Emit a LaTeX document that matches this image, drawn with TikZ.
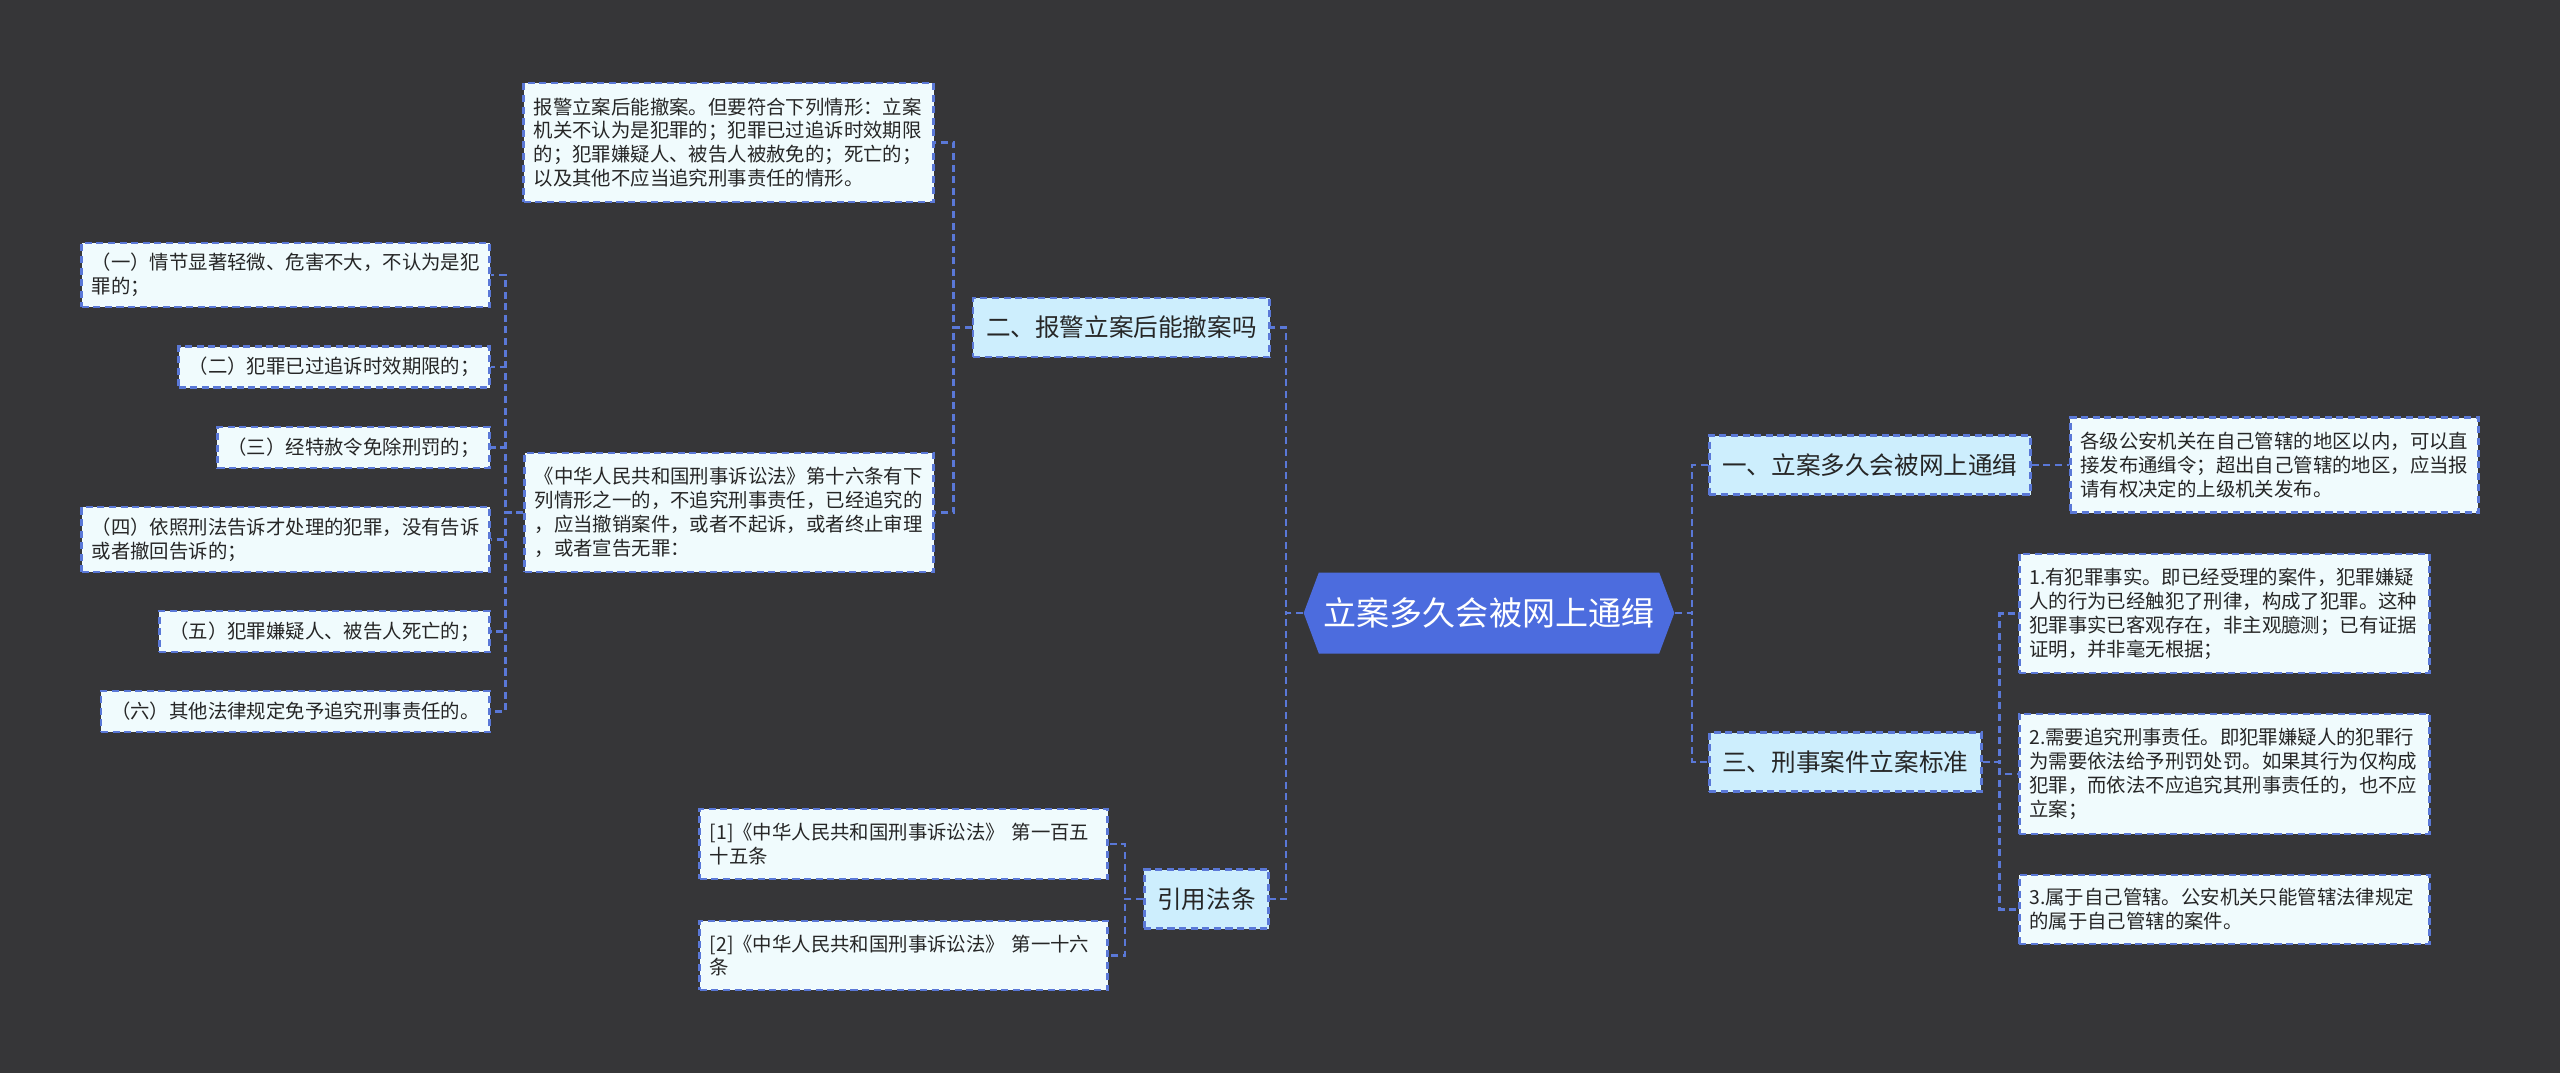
\documentclass[tikz,border=0pt]{standalone}
\usepackage{fontspec}
\setmainfont{Noto Sans CJK SC}
\usepackage{tikz}
\usetikzlibrary{shapes.symbols, positioning}
\definecolor{bgdark}{RGB}{54,54,56}
\definecolor{lineblue}{RGB}{90,120,215}
\definecolor{rootblue}{RGB}{76,108,222}
\definecolor{topicfill}{RGB}{205,238,253}
\definecolor{leaffill}{RGB}{240,251,253}
\tikzset{
    dashline/.style={dash pattern=on 2pt off 1.3pt},
    root_node/.style={
        signal, signal to=east and west, signal pointer angle=139, fill=rootblue,
        minimum height=0.81cm, inner xsep=0.05cm, text=white, font=\fontsize{9.4}{11}\selectfont
    },
    topic_box/.style={
        rectangle, draw=lineblue, dashline, line width=0.026cm, fill=topicfill,
        minimum height=0.59cm, inner xsep=0.13cm, text=black!85, font=\fontsize{7}{8.4}\selectfont
    },
    leaf_box/.style={
        rectangle, draw=lineblue, dashline, line width=0.026cm, fill=leaffill,
        inner xsep=0.1cm, inner ysep=0.05cm, align=left, text=black!85, font=\fontsize{5.52}{6.8}\selectfont
    },
    link/.style={draw=lineblue, dashline, line width=0.026cm}
}
\begin{document}
\begin{tikzpicture}
    \fill[bgdark] (0,0) rectangle (25.6,-10.73);
    \useasboundingbox (0,0) rectangle (25.6,-10.73);

    \node[root_node] (root) at (14.89,-6.13) {立案多久会被网上通缉};

    % right side
    \node[topic_box, anchor=west] (netwanted) at (17.08,-4.65) {一、立案多久会被网上通缉};
    \node[leaf_box, anchor=west, text width=3.88cm, minimum height=0.95cm] (issuer) at (20.69,-4.65) {各级公安机关在自己管辖的地区以内，可以直\\接发布通缉令；超出自己管辖的地区，应当报\\请有权决定的上级机关发布。};
    \node[topic_box, anchor=west] (standard) at (17.08,-7.62) {三、刑事案件立案标准};
    \node[leaf_box, anchor=west, text width=3.9cm, minimum height=1.19cm] (fact) at (20.18,-6.135) {1.有犯罪事实。即已经受理的案件，犯罪嫌疑\\人的行为已经触犯了刑律，构成了犯罪。这种\\犯罪事实已客观存在，非主观臆测；已有证据\\证明，并非毫无根据；};
    \node[leaf_box, anchor=west, text width=3.9cm, minimum height=1.2cm] (liability) at (20.18,-7.74) {2.需要追究刑事责任。即犯罪嫌疑人的犯罪行\\为需要依法给予刑罚处罚。如果其行为仅构成\\犯罪，而依法不应追究其刑事责任的，也不应\\立案；};
    \node[leaf_box, anchor=west, text width=3.9cm, minimum height=0.69cm] (jurisdiction) at (20.18,-9.095) {3.属于自己管辖。公安机关只能管辖法律规定\\的属于自己管辖的案件。};

    % left side
    \node[topic_box, anchor=east] (withdraw) at (12.71,-3.275) {二、报警立案后能撤案吗};
    \node[leaf_box, anchor=east, text width=3.9cm, minimum height=1.19cm] (conditions) at (9.35,-1.425) {报警立案后能撤案。但要符合下列情形：立案\\机关不认为是犯罪的；犯罪已过追诉时效期限\\的；犯罪嫌疑人、被告人被赦免的；死亡的；\\以及其他不应当追究刑事责任的情形。};
    \node[leaf_box, anchor=east, text width=3.89cm, minimum height=1.19cm] (article16) at (9.35,-5.125) {《中华人民共和国刑事诉讼法》第十六条有下\\列情形之一的，不追究刑事责任，已经追究的\\，应当撤销案件，或者不起诉，或者终止审理\\，或者宣告无罪：};
    \node[leaf_box, anchor=east, text width=3.88cm, minimum height=0.64cm] (case1) at (4.91,-2.75) {（一）情节显著轻微、危害不大，不认为是犯\\罪的；};
    \node[leaf_box, anchor=east, minimum height=0.41cm] (case2) at (4.91,-3.67) {（二）犯罪已过追诉时效期限的；};
    \node[leaf_box, anchor=east, minimum height=0.41cm] (case3) at (4.91,-4.475) {（三）经特赦令免除刑罚的；};
    \node[leaf_box, anchor=east, text width=3.88cm, minimum height=0.65cm] (case4) at (4.91,-5.395) {（四）依照刑法告诉才处理的犯罪，没有告诉\\或者撤回告诉的；};
    \node[leaf_box, anchor=east, minimum height=0.41cm] (case5) at (4.91,-6.315) {（五）犯罪嫌疑人、被告人死亡的；};
    \node[leaf_box, anchor=east, minimum height=0.41cm] (case6) at (4.91,-7.115) {（六）其他法律规定免予追究刑事责任的。};
    \node[topic_box, anchor=east] (cite) at (12.70,-8.99) {引用法条};
    \node[leaf_box, anchor=east, text width=3.88cm, minimum height=0.7cm] (ref1) at (11.09,-8.44) {[1]《中华人民共和国刑事诉讼法》 第一百五\\十五条};
    \node[leaf_box, anchor=east, text width=3.88cm, minimum height=0.69cm] (ref2) at (11.09,-9.555) {[2]《中华人民共和国刑事诉讼法》 第一十六\\条};

    % connectors
    \foreach \n in {netwanted, standard}
        \draw[link] (root.east) -- ++(0.17,0) |- (\n.west);
    \draw[link] (netwanted.east) -- (issuer.west);
    \foreach \n in {fact, liability, jurisdiction}
        \draw[link] (standard.east) -- ++(0.17,0) |- (\n.west);
    \foreach \n in {withdraw, cite}
        \draw[link] (root.west) -- ++(-0.17,0) |- (\n.east);
    \foreach \n in {conditions, article16}
        \draw[link] (withdraw.west) -- ++(-0.18,0) |- (\n.east);
    \foreach \n in {case1, case2, case3, case4, case5, case6}
        \draw[link] (article16.west) -- ++(-0.18,0) |- (\n.east);
    \foreach \n in {ref1, ref2}
        \draw[link] (cite.west) -- ++(-0.18,0) |- (\n.east);
\end{tikzpicture}
\end{document}
